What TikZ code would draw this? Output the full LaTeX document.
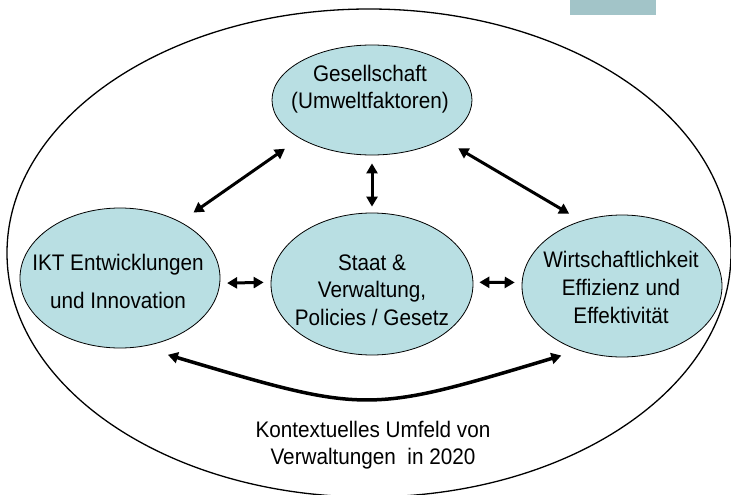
\documentclass[tikz,border=0pt]{standalone}
\usepackage{fontspec}
\setmainfont{Liberation Sans}[FakeStretch=0.92]
\usetikzlibrary{arrows.meta,shapes.geometric}
\definecolor{blobfill}{RGB}{185,223,227}
\definecolor{tabfill}{RGB}{162,196,200}

\begin{document}
\begin{tikzpicture}[x=1pt,y=-1pt,
  blob/.style={ellipse,draw,line width=0.8pt,fill=blobfill,minimum width=200pt,minimum height=140pt,inner sep=0pt},
  lbl/.style={align=center,font=\fontsize{22.5}{27.5}\selectfont,inner sep=0pt},
  arr/.style={line width=3pt,{Triangle[length=10pt,width=11pt]}-{Triangle[length=10pt,width=11pt]}}]
\useasboundingbox (0,0) rectangle (731,495);
% outer context
\fill[tabfill] (570,0) rectangle (656,15);
\draw[line width=1.3pt] (369,253) ellipse [x radius=362, y radius=244];
% the four fields
\node[blob,minimum height=110pt] (ges) at (372,100) {};
\node[blob] (ikt) at (120,278) {};
\node[blob,minimum width=202pt,minimum height=142pt] (staat) at (372,284) {};
\node[blob,minimum height=142pt] (wirt) at (622,286) {};
\node[lbl] (ges-lbl) at (370,89) {Gesellschaft\\(Umweltfaktoren)};
\node[lbl] (ikt-lbl) at (118,281) {IKT Entwicklungen\\[10.5pt]und Innovation};
\node[lbl] (staat-lbl) at (372,290) {Staat \&\\Verwaltung,\\Policies / Gesetz};
\node[lbl] (wirt-lbl) at (621,287) {Wirtschaftlichkeit\\[0.5pt]Effizienz und\\[0.5pt]Effektivit\"at};
\node[lbl] (umfeld-lbl) at (373,445) {Kontextuelles Umfeld von\\Verwaltungen~ in 2020};
% relations
\coordinate (dip) at (367,414);
\draw[arr,shorten <=16pt,shorten >=18pt] (ikt.43) -- (ges.-152);
\draw[arr,shorten <=18pt,shorten >=14pt] (ges.-29) -- (wirt.122);
\draw[arr,shorten <=8pt,shorten >=6pt] (ges.south) -- (staat.north);
\draw[arr,shorten <=7pt,shorten >=7pt] (ikt.-3) -- (staat.179);
\draw[arr,shorten <=6pt,shorten >=7pt] (staat.1) -- (wirt.178);
\draw[arr,line width=3.5pt,shorten <=28pt,shorten >=18pt] (ikt.-73) .. controls (dip) .. (wirt.-124);
\end{tikzpicture}
\end{document}
